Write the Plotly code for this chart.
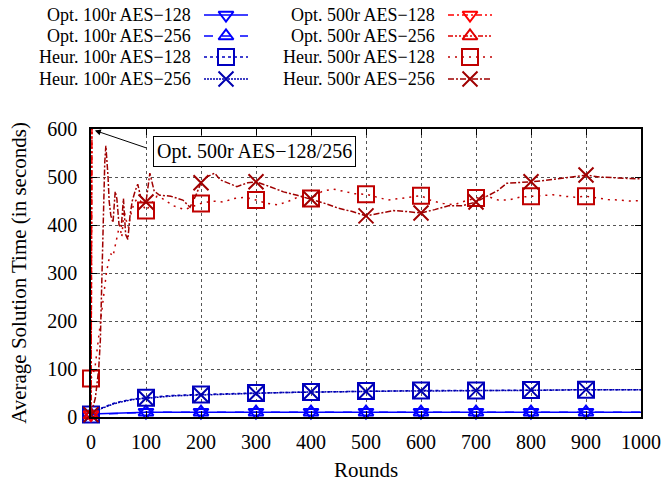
import plotly.graph_objects as go

# ---------------- data ----------------
opt100_128_x = [0, 100, 200, 300, 400, 500, 600, 700, 800, 900, 1000]
opt100_128_y = [6, 10, 10, 10, 10, 10, 10, 10, 10, 10, 10]
opt100_256_x = [0, 100, 200, 300, 400, 500, 600, 700, 800, 900, 1000]
opt100_256_y = [5, 10, 10, 10, 10, 10, 10, 10, 10, 10, 10]

heur100_128_x = [0, 10, 20, 30, 40, 50, 60, 70, 80, 90, 100, 125, 150, 175, 200, 250, 300, 350, 400,
                 450, 500, 550, 600, 650, 700, 750, 800, 850, 900, 950, 1000]
heur100_128_y = [5, 14, 19, 24, 28, 31, 34, 36, 38, 39, 40, 43, 45, 46, 47, 48, 50, 51, 52,
                 53, 54, 54, 55, 55, 55, 56, 56, 56, 57, 57, 57]
heur100_256_x = [0, 10, 20, 30, 40, 50, 60, 70, 80, 90, 100, 125, 150, 175, 200, 250, 300, 350, 400,
                 450, 500, 550, 600, 650, 700, 750, 800, 850, 900, 950, 1000]
heur100_256_y = [4, 13, 18, 23, 27, 30, 33, 35, 37, 38, 39, 42, 44, 45, 46, 48, 49, 51, 52,
                 53, 53, 54, 54, 55, 55, 55, 56, 56, 57, 57, 57]

opt500_128_x = [0, 1, 2]
opt500_128_y = [5, 650, 700]
opt500_256_x = [0, 1, 2]
opt500_256_y = [4, 640, 700]

heur500_128_x = [0, 4, 8, 12, 16, 20, 24, 28, 32, 36, 40, 44, 48, 52, 56, 60, 64, 68, 72, 78, 84, 90, 95,
                 100, 110, 120, 130, 150, 170, 190, 200, 220, 240, 260, 280, 300, 320, 340, 360, 380,
                 400, 420, 440, 460, 480, 500, 520, 540, 560, 580, 600, 620, 640, 660, 680, 700, 720,
                 740, 760, 780, 800, 820, 840, 860, 880, 900, 920, 940, 960, 980, 1000]
heur500_128_y = [80, 90, 110, 150, 190, 230, 270, 300, 325, 340, 335, 355, 380, 400, 375, 430, 410, 395,
                 420, 445, 455, 450, 440, 430, 445, 460, 455, 440, 432, 440, 445, 450, 448, 455, 458,
                 452, 445, 442, 450, 460, 455, 470, 475, 470, 465, 464, 458, 452, 455, 458, 461, 450,
                 445, 442, 450, 456, 460, 452, 452, 458, 460, 462, 463, 460, 458, 460, 456, 453, 452,
                 450, 451]

heur500_256_x = [0, 4, 8, 11, 14, 17, 19, 21, 23, 25, 27, 29, 31, 33, 36, 40, 44, 47, 51, 55, 59, 63, 67,
                 71, 75, 80, 85, 90, 95, 100, 107, 115, 125, 145, 167, 180, 190, 200, 210, 225, 235,
                 247, 265, 285, 300, 325, 350, 375, 400, 425, 450, 475, 500, 525, 550, 575, 600, 625,
                 650, 675, 700, 720, 740, 756, 780, 800, 820, 850, 875, 900, 925, 950, 975, 1000]
heur500_256_y = [5, 20, 40, 70, 100, 160, 250, 350, 450, 530, 565, 540, 500, 450, 420, 405, 470, 455,
                 400, 395, 455, 380, 370, 420, 450, 470, 485, 460, 455, 448, 508, 470, 462, 460, 452,
                 437, 460, 488, 500, 508, 494, 488, 480, 488, 490, 480, 469, 462, 454, 445, 435, 428,
                 419, 425, 430, 428, 425, 432, 440, 440, 448, 460, 472, 487, 488, 490, 492, 497, 500,
                 504, 500, 498, 497, 496]

series_names = ["Opt. 100r AES\u2212128", "Opt. 100r AES\u2212256",
                "Heur. 100r AES\u2212128", "Heur. 100r AES\u2212256",
                "Opt. 500r AES\u2212128", "Opt. 500r AES\u2212256",
                "Heur. 500r AES\u2212128", "Heur. 500r AES\u2212256"]

x_ticks = [0, 100, 200, 300, 400, 500, 600, 700, 800, 900, 1000]
y_ticks = [0, 100, 200, 300, 400, 500, 600]

# ---------------- styles ----------------
FONT = "Liberation Serif"
series = [
    (opt100_128_x, opt100_128_y, "#0000FF", "solid", "triangle-down-open", 13),
    (opt100_256_x, opt100_256_y, "#0000FF", "dash", "triangle-up-open", 13),
    (heur100_128_x, heur100_128_y, "#0000C0", "dot", "square-open", 16),
    (heur100_256_x, heur100_256_y, "#0000B0", "2px,1px", "x-thin-open", 15),
    (opt500_128_x, opt500_128_y, "#FF0000", "6px,3px,2px,3px", "triangle-down-open", 13),
    (opt500_256_x, opt500_256_y, "#E00000", "5px,2px,2px,2px,2px,2px", "triangle-up-open", 13),
    (heur500_128_x, heur500_128_y, "#C00000", "2px,5px", "square-open", 16),
    (heur500_256_x, heur500_256_y, "#A00000", "6px,2px,2px,2px", "x-thin-open", 15),
]

fig = go.Figure()

for (xs, ys, col, dash, sym, ms), name in zip(series, series_names):
    fig.add_trace(go.Scatter(x=xs, y=ys, mode="lines", name=name, showlegend=False,
                             line=dict(color=col, width=1.5, dash=dash)))
    mx = [x for x in xs if x % 100 == 0 and x <= 900]
    my = [y for x, y in zip(xs, ys) if x % 100 == 0 and x <= 900]
    fig.add_trace(go.Scatter(x=mx, y=my, mode="markers", showlegend=False, cliponaxis=False,
                             marker=dict(symbol=sym, size=ms, color=col,
                                         line=dict(color=col, width=2))))

# ---------------- manual legend (pixel-like coordinates on hidden axes) ----------------
row_y = [15, 36, 57, 79]
col_line = [(204, 248, 226, 193), (448, 492, 470, 437)]
for i, ((xs, ys, col, dash, sym, ms), name) in enumerate(zip(series, series_names)):
    c = i // 4
    r = i % 4
    x0, x1, xm, xt = col_line[c]
    fig.add_trace(go.Scatter(x=[x0, x1], y=[row_y[r], row_y[r]], mode="lines", xaxis="x2", yaxis="y2",
                             showlegend=False, hoverinfo="skip",
                             line=dict(color=col, width=1.5, dash=dash)))
    fig.add_trace(go.Scatter(x=[xm], y=[row_y[r]], mode="markers", xaxis="x2", yaxis="y2",
                             showlegend=False, hoverinfo="skip", cliponaxis=False,
                             marker=dict(symbol=sym, size=ms, color=col, line=dict(color=col, width=2))))
    fig.add_annotation(x=xt, y=row_y[r], xref="x2", yref="y2", text=name, showarrow=False,
                       xanchor="right", yanchor="middle", font=dict(family=FONT, size=18, color="black"))

# ---------------- callout ----------------
fig.add_annotation(x=298, y=554, xref="x", yref="y", text="Opt. 500r AES\u2212128/256",
                   showarrow=False, font=dict(family=FONT, size=20, color="black"),
                   bordercolor="black", borderwidth=1, borderpad=3, bgcolor="white")
fig.add_annotation(x=7, y=597, xref="x", yref="y", text="", showarrow=True,
                   ax=53, ay=18, arrowhead=2, arrowsize=1.2, arrowwidth=1, arrowcolor="black")

plot_top = 288 / 417
fig.update_layout(
    width=667, height=482,
    margin=dict(l=91, r=26, t=0, b=65, autoexpand=False),
    paper_bgcolor="white", plot_bgcolor="white",
    font=dict(family=FONT, size=20, color="black"),
    showlegend=False,
    xaxis=dict(range=[0, 1000], domain=[0, 1], tickvals=x_ticks, ticktext=[str(v) for v in x_ticks],
               showgrid=True, gridcolor="#555", griddash="dot", gridwidth=1,
               showline=True, linecolor="black", linewidth=1.5, mirror="ticks",
               ticks="inside", ticklen=6, tickcolor="black", zeroline=False, automargin=False,
               ticklabelstandoff=6,
               title=dict(text="Rounds", font=dict(family=FONT, size=21), standoff=12),
               tickfont=dict(family=FONT, size=20)),
    yaxis=dict(range=[0, 600], domain=[0, plot_top], tickvals=y_ticks, ticktext=[str(v) for v in y_ticks],
               showgrid=True, gridcolor="#555", griddash="dot", gridwidth=1,
               showline=True, linecolor="black", linewidth=1.5, mirror="ticks",
               ticks="inside", ticklen=6, tickcolor="black", zeroline=False, automargin=False,
               ticklabelstandoff=8,
               title=dict(text="Average Solution Time (in seconds)", font=dict(family=FONT, size=21),
                          standoff=15),
               tickfont=dict(family=FONT, size=20)),
    xaxis2=dict(range=[91, 641], domain=[0, 1], anchor="y2", visible=False, fixedrange=True),
    yaxis2=dict(range=[117, 0], domain=[(417 - 117) / 417, 1], anchor="x2", visible=False, fixedrange=True),
)

fig.write_html("out.html", config={"displayModeBar": False},
               post_script="document.body.style.margin='0';")
